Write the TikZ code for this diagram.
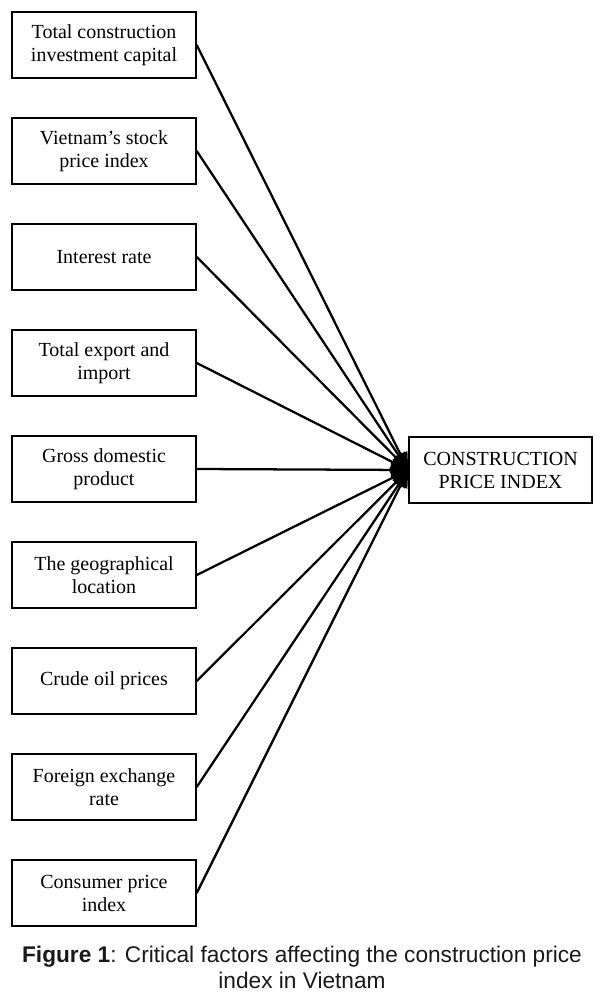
\documentclass[tikz,border=0pt]{standalone}
\usepackage{fontspec}
\setmainfont{Liberation Serif}
\newfontfamily\capfont{Liberation Sans}
\usetikzlibrary{arrows.meta}
\begin{document}
\begin{tikzpicture}[x=0.75pt,y=-0.75pt,
  factor/.style={draw,line width=1.1pt,minimum width=138pt,minimum height=49.5pt,
    align=center,inner sep=0pt,font=\fontsize{15}{17.25}\selectfont},
  link/.style={line width=1.7pt,-{Triangle[length=13pt,width=11pt]}}]
\useasboundingbox (0,0) rectangle (604,995);
\node[factor] (f1) at (104,45) {Total construction\\investment capital};
\node[factor] (f2) at (104,151) {Vietnam’s stock\\price index};
\node[factor] (f3) at (104,257) {Interest rate};
\node[factor] (f4) at (104,363) {Total export and\\import};
\node[factor] (f5) at (104,469) {Gross domestic\\product};
\node[factor] (f6) at (104,575) {The geographical\\location};
\node[factor] (f7) at (104,681) {Crude oil prices};
\node[factor] (f8) at (104,787) {Foreign exchange\\rate};
\node[factor] (f9) at (104,893) {Consumer price\\index};
\node[factor,minimum width=137.25pt] (cpi) at (500.5,470) {CONSTRUCTION\\PRICE INDEX};
\foreach \i in {1,...,9} \draw[link] (f\i.east) -- (cpi.west);
\node[font=\capfont\fontsize{17}{19.5}\selectfont,align=center,text=black!90,anchor=base] (cap) at (302,988)
  {\textbf{Figure 1}: Critical factors affecting the construction price\\index in Vietnam};
\end{tikzpicture}
\end{document}
